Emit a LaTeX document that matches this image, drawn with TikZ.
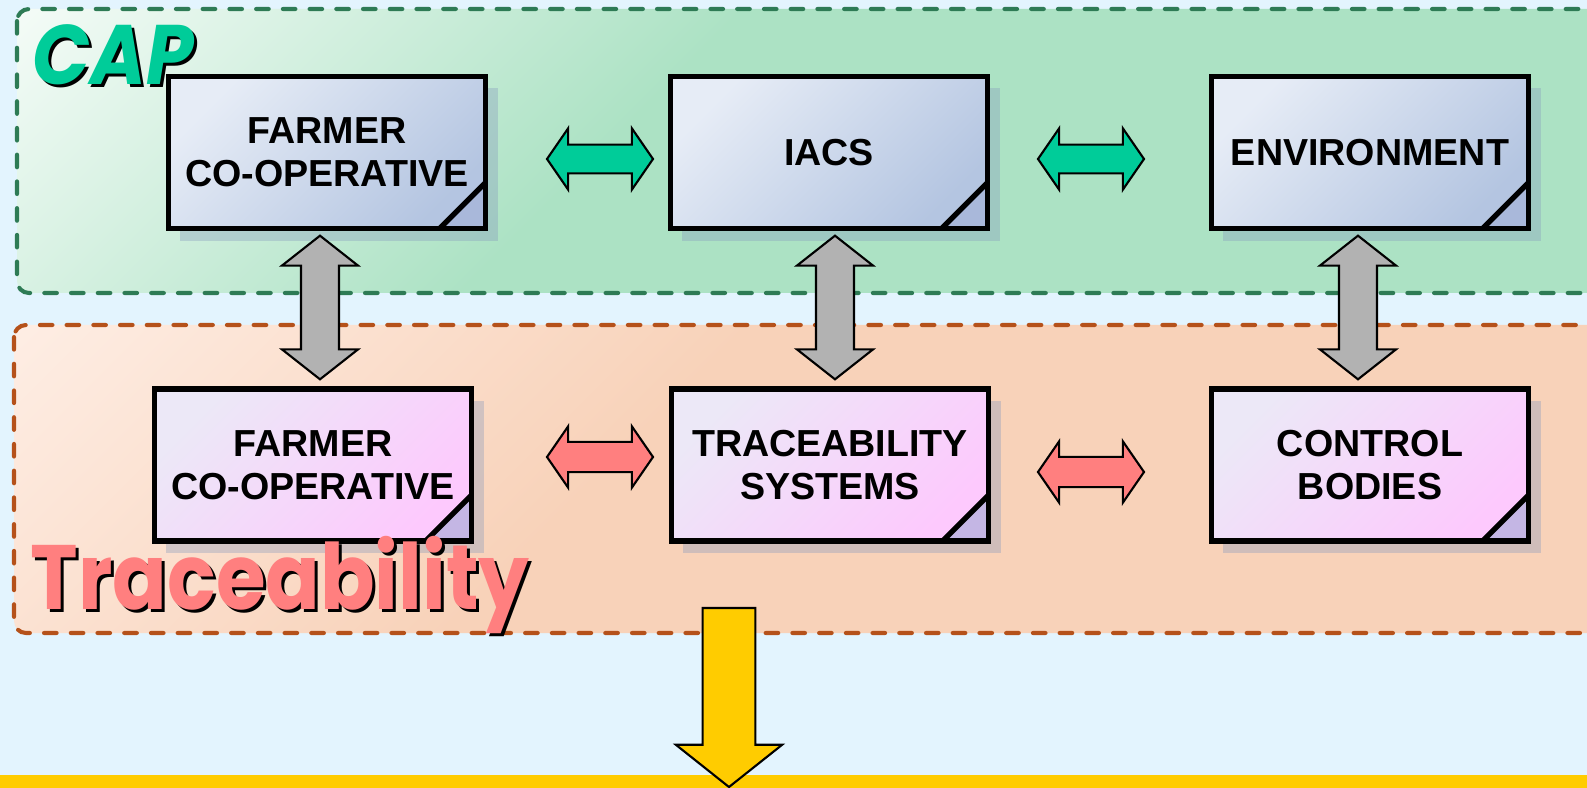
\documentclass[tikz,border=0pt]{standalone}
\usepackage{fontspec}
\usepackage{xcolor}
\usepackage{tikz}
\usetikzlibrary{calc,shadows}

\newfontfamily\boxfont{Liberation Sans}
\newfontfamily\labelfont{Poppins}

\definecolor{bgblue}{HTML}{E3F4FE}
\definecolor{capgreen}{HTML}{ACE2C4}
\definecolor{caplight}{HTML}{F6FCF8}
\definecolor{capdash}{HTML}{2E7B55}
\definecolor{trpeach}{HTML}{F8D2B9}
\definecolor{trlight}{HTML}{FEEEE5}
\definecolor{trdash}{HTML}{B5511A}
\definecolor{boxlight}{HTML}{E6ECF6}
\definecolor{boxblue}{HTML}{B4C5E1}
\definecolor{pinklight}{HTML}{ECE8F7}
\definecolor{boxpink}{HTML}{FDC9FD}
\definecolor{foldblue}{HTML}{A9B8DA}
\definecolor{foldpink}{HTML}{C4B6E4}
\definecolor{shadowcol}{HTML}{8598BC}
\definecolor{capcol}{HTML}{00CC99}
\definecolor{trcol}{HTML}{FF7F7F}
\definecolor{linkgray}{HTML}{B2B2B2}
\definecolor{outyellow}{HTML}{FFCC00}

\pgfdeclareverticalshading{capshade}{100bp}{color(0bp)=(capgreen); color(58bp)=(capgreen); color(86bp)=(caplight); color(100bp)=(caplight)}
\pgfdeclareverticalshading{trshade}{100bp}{color(0bp)=(trpeach); color(58bp)=(trpeach); color(86bp)=(trlight); color(100bp)=(trlight)}

\tikzset{
  fold/.style={path picture={
    \fill[#1] ([yshift=0.46cm]path picture bounding box.south east) -- (path picture bounding box.south east) -- ([xshift=-0.46cm]path picture bounding box.south east) -- cycle;
    \draw[line width=1.5pt] ([yshift=0.46cm]path picture bounding box.south east) -- ([xshift=-0.46cm]path picture bounding box.south east);}},
  card/.style={draw, line width=1.5pt, minimum width=3.17cm, minimum height=1.52cm, align=center, inner sep=0pt,
    font=\boxfont\bfseries\fontsize{10.7}{12.2}\selectfont,
    drop shadow={shadow xshift=0.12cm, shadow yshift=-0.12cm, fill=shadowcol, opacity=0.35}},
  capbox/.style={card, top color=boxlight, bottom color=boxblue, shading angle=45, fold=foldblue},
  trbox/.style={card, top color=pinklight, bottom color=boxpink, shading angle=45, fold=foldpink},
  dblarrow/.style n args={3}{to path={
    (\tikztostart) -- ($(\tikztostart)!#3!(\tikztotarget)!#2!90:(\tikztotarget)$)
    -- ($(\tikztostart)!#3!(\tikztotarget)!#1!90:(\tikztotarget)$)
    -- ($(\tikztotarget)!#3!(\tikztostart)!#1!-90:(\tikztostart)$)
    -- ($(\tikztotarget)!#3!(\tikztostart)!#2!-90:(\tikztostart)$)
    -- (\tikztotarget)
    -- ($(\tikztotarget)!#3!(\tikztostart)!#2!90:(\tikztostart)$)
    -- ($(\tikztotarget)!#3!(\tikztostart)!#1!90:(\tikztostart)$)
    -- ($(\tikztostart)!#3!(\tikztotarget)!#1!-90:(\tikztotarget)$)
    -- ($(\tikztostart)!#3!(\tikztotarget)!#2!-90:(\tikztotarget)$) -- cycle}},
  onearrow/.style n args={3}{to path={
    ($(\tikztostart)!#1!90:(\tikztotarget)$)
    -- ($(\tikztotarget)!#3!(\tikztostart)!#1!-90:(\tikztostart)$)
    -- ($(\tikztotarget)!#3!(\tikztostart)!#2!-90:(\tikztostart)$)
    -- (\tikztotarget)
    -- ($(\tikztotarget)!#3!(\tikztostart)!#2!90:(\tikztostart)$)
    -- ($(\tikztotarget)!#3!(\tikztostart)!#1!90:(\tikztostart)$)
    -- ($(\tikztostart)!#1!-90:(\tikztotarget)$) -- cycle}},
  greenlink/.style={draw=black, line width=0.6pt, fill=capcol, dblarrow={4.1pt}{8.7pt}{6pt}},
  redlink/.style={draw=black, line width=0.6pt, fill=trcol, dblarrow={4.3pt}{8.7pt}{6pt}},
  graylink/.style={draw=black, line width=0.6pt, fill=linkgray, dblarrow={5.4pt}{10.8pt}{8.5pt}},
  outlink/.style={draw=black, line width=0.6pt, fill=outyellow, onearrow={7.5pt}{15.1pt}{12pt}},
  region/.style={line width=1.15pt, dash pattern=on 3.6pt off 4pt, line cap=round, rounded corners=0.12cm},
  bigtext/.style={inner sep=0pt, anchor=base west}
}

\begin{document}
\begin{tikzpicture}[x=0.01cm,y=-0.01cm]

    % Canvas
    \path[use as bounding box, clip] (0,0) rectangle (1587,788);
    \fill[bgblue] (0,0) rectangle (1587,788);

    % The two areas
    \path[region, draw=capdash, shading=capshade, shading angle=45] (17,9) rectangle (1610,293);
    \path[region, draw=trdash, shading=trshade, shading angle=45] (14,325) rectangle (1610,633);
    \fill[outyellow] (0,775) rectangle (1587,795);

    % The boxes
    \node [capbox] at (327,152.5) (fa1) {FARMER\\CO-OPERATIVE};
    \node [capbox] at (829,152.5) (ia) {IACS};
    \node [capbox] at (1370,152.5) (en) {ENVIRONMENT};
    \node [trbox] at (313,465) (fa2) {FARMER\\CO-OPERATIVE};
    \node [trbox] at (830,465) (ts) {TRACEABILITY\\SYSTEMS};
    \node [trbox] at (1370,465) (cb) {CONTROL\\BODIES};

    % Free ends of the side arrows
    \coordinate (g1a) at (547,159);
    \coordinate (g1b) at (653,159);
    \coordinate (g2a) at (1038,159);
    \coordinate (g2b) at (1144,159);
    \coordinate (r1a) at (547,457);
    \coordinate (r1b) at (653,457);
    \coordinate (r2a) at (1038,472);
    \coordinate (r2b) at (1144,472);
    \coordinate (outa) at (729,608);
    \coordinate (outb) at (729,787);

    % Links
    \draw[greenlink] (g1a) to (g1b);
    \draw[greenlink] (g2a) to (g2b);
    \draw[redlink] (r1a) to (r1b);
    \draw[redlink] (r2a) to (r2b);
    \draw[graylink] ($(fa1.south)+(-7,4.5)$) to ($(fa2.north)+(7,-7)$);
    \draw[graylink] ($(ia.south)+(6,4.5)$) to ($(ts.north)+(5,-7)$);
    \draw[graylink] ($(en.south)+(-12,4.5)$) to ($(cb.north)+(-12,-7)$);
    \draw[outlink] (outa) to (outb);

    % Area titles
    \node [bigtext, font=\labelfont\bfseries\itshape\fontsize{24}{24}\selectfont, text=black] at (35,88) (capshadow) {\scalebox{0.9}[1]{CAP}};
    \node [bigtext, font=\labelfont\bfseries\itshape\fontsize{24}{24}\selectfont, text=capcol] at (32,85) (cap) {\scalebox{0.9}[1]{CAP}};
    \node [bigtext, font=\labelfont\bfseries\fontsize{26}{26}\selectfont, text=black] at (33,613) (trshadow) {\scalebox{0.88}[1]{Traceability}};
    \node [bigtext, font=\labelfont\bfseries\fontsize{26}{26}\selectfont, text=trcol] at (30,610) (tr) {\scalebox{0.88}[1]{Traceability}};
\end{tikzpicture}
\end{document}
